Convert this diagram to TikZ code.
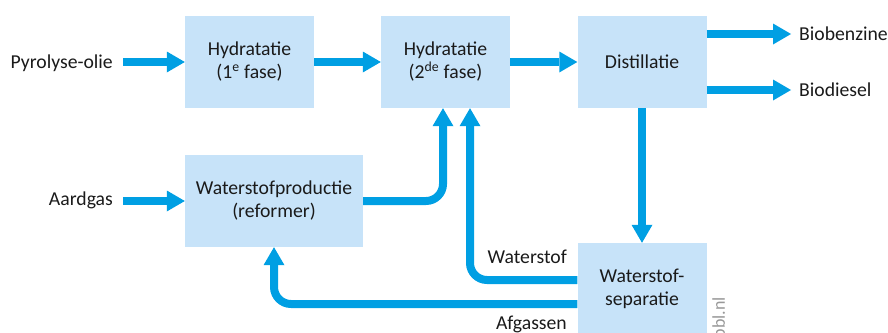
\documentclass[tikz,border=0pt]{standalone}
\usepackage{fontspec}
\setmainfont{Carlito}
\usetikzlibrary{arrows.meta}
\definecolor{boxfill}{HTML}{C7E3F9}
\definecolor{flow}{HTML}{009FE3}
\definecolor{ink}{HTML}{1A1A1A}
\tikzset{
  stepbox/.style={fill=boxfill,draw=none,inner sep=0pt,align=center,text=ink,font=\fontsize{19.7}{23}\selectfont},
  lbl/.style={inner sep=0pt,text=ink,font=\fontsize{19.7}{23}\selectfont,anchor=base},
  flowline/.style={draw=flow,line width=8pt,-{Triangle[length=18pt,width=21pt,line width=0pt]},rounded corners=17pt}
}
\begin{document}
\begin{tikzpicture}[x=1pt,y=-1pt]
\useasboundingbox (0,0) rectangle (888,332);
\node[stepbox,minimum width=129pt,minimum height=92pt] (h1) at (249.5,62) {Hydratatie\\(1\textsuperscript{e} fase)};
\node[stepbox,minimum width=129pt,minimum height=92pt] (h2) at (445.5,62) {Hydratatie\\(2\textsuperscript{de} fase)};
\node[stepbox,minimum width=129pt,minimum height=92pt] (dist) at (642,62) {Distillatie};
\node[stepbox,minimum width=178pt,minimum height=92pt] (wp) at (274,201) {Waterstofproductie\\(reformer)};
\node[stepbox,minimum width=129pt,minimum height=92pt] (sep) at (642,289) {Waterstof-\\separatie};
\node[lbl,anchor=base east] (pyro) at (113,68) {Pyrolyse-olie};
\node[lbl,anchor=base east] (gas) at (113,205) {Aardgas};
\node[lbl,anchor=base west] (benz) at (799,40) {Biobenzine};
\node[lbl,anchor=base west] (dies) at (799,96) {Biodiesel};
\node[lbl,anchor=base east] (wst) at (567,263) {Waterstof};
\node[lbl,anchor=base east] (afg) at (567,329) {Afgassen};
\node[inner sep=0pt,rotate=90,anchor=east,text=black!40,font=\fontsize{18}{20}\selectfont] (pbl) at (720,297) {pbl.nl};
\coordinate (pyroEnd) at (123,62);
\coordinate (gasEnd) at (123,201);
\coordinate (benzEnd) at (791,34);
\coordinate (diesEnd) at (791,90);
\draw[flowline] (pyroEnd) -- (h1.west);
\draw[flowline] (h1.east) -- (h2.west);
\draw[flowline] (h2.east) -- (dist.west);
\draw[flowline] (gasEnd) -- (wp.west);
\draw[flowline] (dist.east |- benzEnd) -- (benzEnd);
\draw[flowline] (dist.east |- diesEnd) -- (diesEnd);
\draw[flowline] (dist.south) -- (sep.north);
\draw[flowline] (wp.east) -| ([xshift=-2.5pt]h2.south);
\draw[flowline] (sep.west |- 0,280) -| ([xshift=24.5pt]h2.south);
\draw[flowline] (sep.west |- 0,304) -| (wp.south);
\end{tikzpicture}
\end{document}
